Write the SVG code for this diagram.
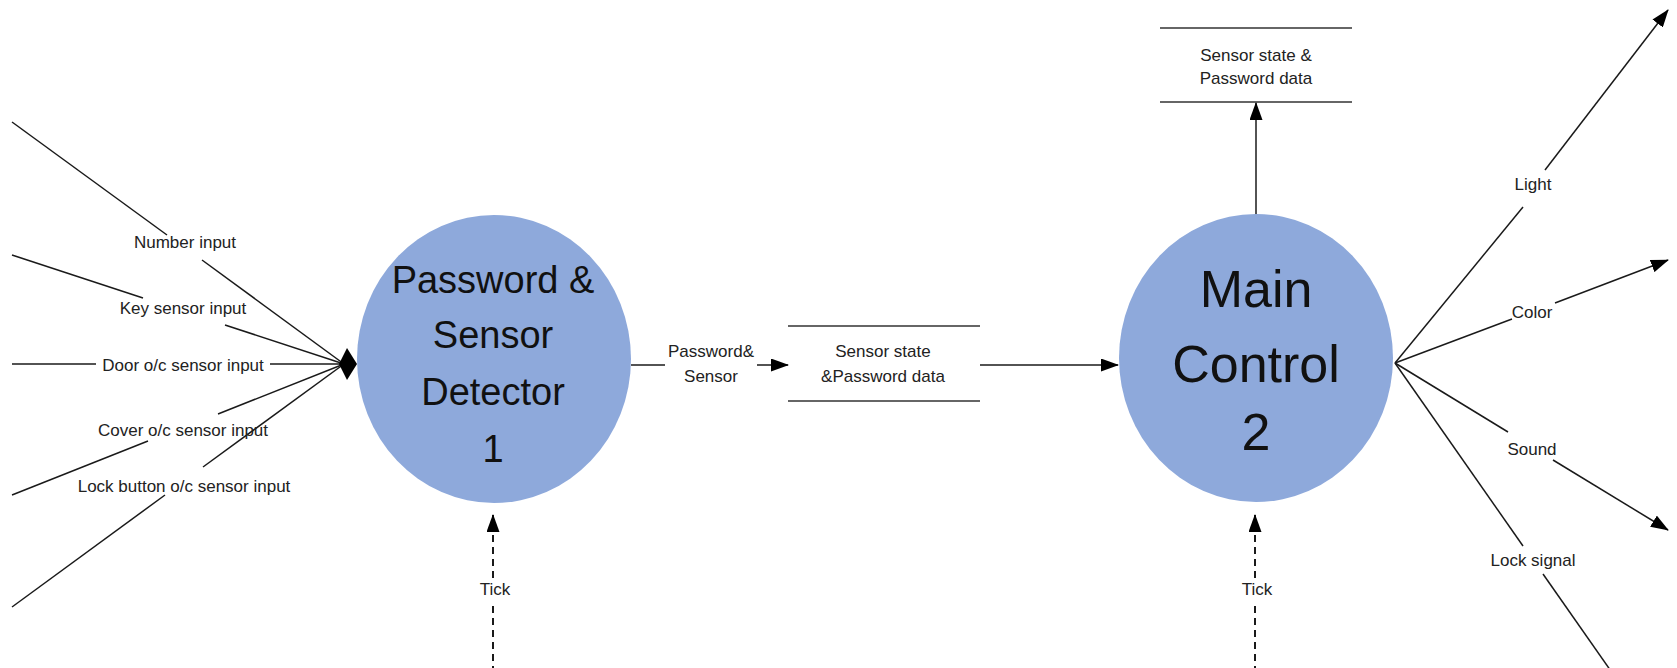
<svg xmlns="http://www.w3.org/2000/svg" width="1677" height="668" viewBox="0 0 1677 668">
<style>
.bg{fill:#ffffff}
.proc{fill:#8EA9DB;stroke:none}
.big{font-family:"Liberation Sans",Arial,sans-serif;fill:#111;text-anchor:middle}
.lbl{font-family:"Liberation Sans",Arial,sans-serif;font-size:17px;fill:#222;text-anchor:middle}
.ln{stroke:#1a1a1a;stroke-width:1.5;fill:none}
.dash{stroke:#1a1a1a;stroke-width:2;fill:none;stroke-dasharray:7 5}
.store{stroke:#333;stroke-width:1.6}
</style>
<defs>
<marker id="arr" viewBox="0 0 18 13" refX="17" refY="6.5" markerWidth="18" markerHeight="13" markerUnits="userSpaceOnUse" orient="auto">
<path d="M0,0 L18,6.5 L0,13 z" fill="#000"/>
</marker>
</defs>
<rect class="bg" x="0" y="0" width="1677" height="668"/>

<g id="node-detector">
<ellipse class="proc" cx="494" cy="359" rx="137" ry="144"/>
<text class="big" font-size="38" x="493" y="293">Password &amp;</text>
<text class="big" font-size="38" x="493" y="348">Sensor</text>
<text class="big" font-size="38" x="493" y="405">Detector</text>
<text class="big" font-size="38" x="493" y="462">1</text>
</g>

<g id="node-main">
<ellipse class="proc" cx="1256" cy="358" rx="137" ry="144"/>
<text class="big" font-size="52" x="1256" y="307">Main</text>
<text class="big" font-size="52" x="1256" y="382">Control</text>
<text class="big" font-size="52" x="1256" y="450">2</text>
</g>

<g id="store-1">
<line class="store" x1="788" y1="326" x2="980" y2="326"/>
<line class="store" x1="788" y1="401" x2="980" y2="401"/>
<text class="lbl" x="883" y="357">Sensor state</text>
<text class="lbl" x="883" y="382">&amp;Password data</text>
</g>

<g id="store-2">
<line class="store" x1="1160" y1="28" x2="1352" y2="28"/>
<line class="store" x1="1160" y1="102" x2="1352" y2="102"/>
<text class="lbl" x="1256" y="61">Sensor state &amp;</text>
<text class="lbl" x="1256" y="84">Password data</text>
</g>

<g id="connectors">
<line class="ln" x1="12" y1="122" x2="167" y2="235"/>
<line class="ln" x1="202" y1="260" x2="344" y2="364"/>
<line class="ln" x1="12" y1="255" x2="143" y2="298"/>
<line class="ln" x1="225" y1="325" x2="344" y2="364"/>
<line class="ln" x1="12" y1="364" x2="96" y2="364"/>
<line class="ln" x1="270" y1="364" x2="344" y2="364"/>
<line class="ln" x1="12" y1="495" x2="148" y2="441"/>
<line class="ln" x1="218" y1="414" x2="344" y2="364"/>
<line class="ln" x1="12" y1="607" x2="165" y2="495"/>
<line class="ln" x1="203" y1="467" x2="344" y2="364"/>
<polygon points="339,364 347,348 357,364 347,380" fill="#000"/>
<line class="ln" x1="631" y1="365" x2="665" y2="365"/>
<line class="ln" x1="757" y1="365" x2="788" y2="365" marker-end="url(#arr)"/>
<line class="ln" x1="980" y1="365" x2="1118" y2="365" marker-end="url(#arr)"/>
<line class="ln" x1="1256" y1="214" x2="1256" y2="103" marker-end="url(#arr)"/>
<line class="ln" x1="1395" y1="363" x2="1523" y2="207"/>
<line class="ln" x1="1545" y1="170" x2="1668" y2="10" marker-end="url(#arr)"/>
<line class="ln" x1="1395" y1="363" x2="1512" y2="319"/>
<line class="ln" x1="1555" y1="303" x2="1668" y2="260" marker-end="url(#arr)"/>
<line class="ln" x1="1395" y1="363" x2="1508" y2="432"/>
<line class="ln" x1="1553" y1="460" x2="1668" y2="530" marker-end="url(#arr)"/>
<line class="ln" x1="1395" y1="363" x2="1523" y2="546"/>
<line class="ln" x1="1543" y1="574" x2="1613" y2="674"/>
<line class="dash" x1="493" y1="606" x2="493" y2="668"/>
<line class="dash" x1="493" y1="578" x2="493" y2="515" marker-end="url(#arr)"/>
<line class="dash" x1="1255" y1="606" x2="1255" y2="668"/>
<line class="dash" x1="1255" y1="578" x2="1255" y2="515" marker-end="url(#arr)"/>
<text class="lbl" x="185" y="248">Number input</text>
<text class="lbl" x="183" y="314">Key sensor input</text>
<text class="lbl" x="183" y="371">Door o/c sensor input</text>
<text class="lbl" x="183" y="436">Cover o/c sensor input</text>
<text class="lbl" x="184" y="492">Lock button o/c sensor input</text>
<text class="lbl" x="711" y="357">Password&amp;</text>
<text class="lbl" x="711" y="382">Sensor</text>
<text class="lbl" x="1533" y="190">Light</text>
<text class="lbl" x="1532" y="318">Color</text>
<text class="lbl" x="1532" y="455">Sound</text>
<text class="lbl" x="1533" y="566">Lock signal</text>
<text class="lbl" x="495" y="595">Tick</text>
<text class="lbl" x="1257" y="595">Tick</text>
</g>
</svg>
